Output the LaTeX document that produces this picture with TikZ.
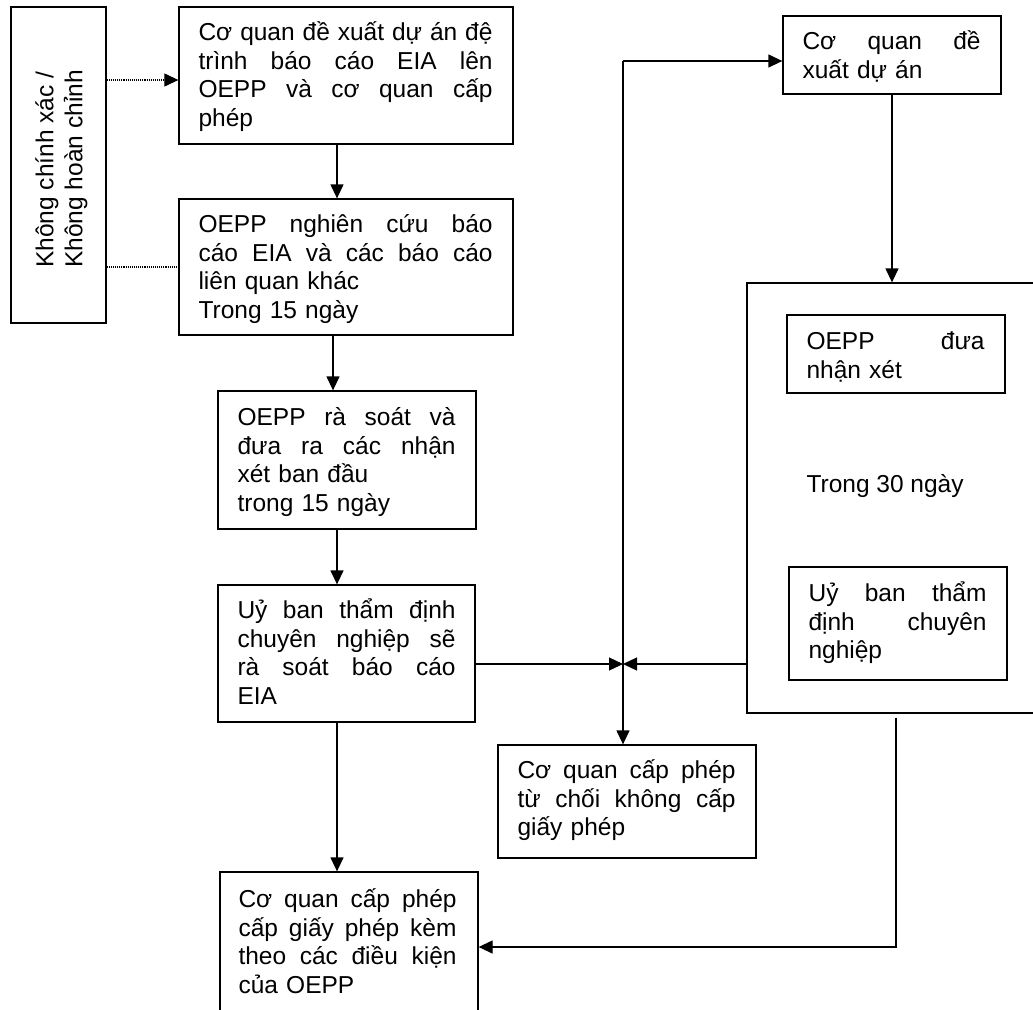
\documentclass[tikz,border=0pt]{standalone}
\usepackage{fontspec}
\setmainfont{Liberation Sans}
\usetikzlibrary{arrows.meta,calc}
\newcommand{\jl}[1]{{\spaceskip=0.278em plus 1fil\xspaceskip=0pt\makebox[\hsize][s]{#1}}}
\newcommand{\fst}{\rule{0pt}{28pt}}
\begin{document}
\begin{tikzpicture}[x=1pt,y=-1pt,
  box/.style={draw,line width=1.3pt,inner sep=0pt,rectangle},
  txt/.style={inner sep=0pt,anchor=north west,align=left,font=\fontsize{24.5}{28.5}\selectfont},
  arr/.style={line width=1.3pt,-{Triangle[length=14pt,width=13pt]}},
  dotarr/.style={line width=1.1pt,densely dotted,-{Triangle[length=14pt,width=13pt]}},
  dotln/.style={line width=1.1pt,densely dotted}]
\path[use as bounding box] (0,0) rectangle (1033,1009);
\clip (0,0) rectangle (1033,1009);

% left vertical box
\node[box,minimum width=95pt,minimum height=316pt] (L) at (58.5,165) {};
\node[inner sep=0pt,rotate=90,align=left,font=\fontsize{24.5}{29}\selectfont] (Lt) at ([shift={(3,4)}]L.center) {Không chính xác /\\Không hoàn chỉnh};

% main column
\node[box,minimum width=334pt,minimum height=137pt] (b1) at (346,75.5) {};
\node[txt,text width=294pt] (t1) at ([shift={(20,6)}]b1.north west) {\fst\jl{Cơ quan đề xuất dự án đệ}\\\jl{trình báo cáo EIA lên}\\\jl{OEPP và cơ quan cấp}\\phép};

\node[box,minimum width=334pt,minimum height=136pt] (b2) at (346,267) {};
\node[txt,text width=294pt] (t2) at ([shift={(20,6)}]b2.north west) {\fst\jl{OEPP nghiên cứu báo}\\\jl{cáo EIA và các báo cáo}\\liên quan khác\\Trong 15 ngày};

\node[box,minimum width=258pt,minimum height=138pt] (b3) at (347,460) {};
\node[txt,text width=218pt] (t3) at ([shift={(20,7)}]b3.north west) {\fst\jl{OEPP rà soát và}\\\jl{đưa ra các nhận}\\xét ban đầu\\trong 15 ngày};

\node[box,minimum width=257pt,minimum height=137pt] (b4) at (346.5,653.5) {};
\node[txt,text width=218pt] (t4) at ([shift={(20,6)}]b4.north west) {\fst\jl{Uỷ ban thẩm định}\\\jl{chuyên nghiệp sẽ}\\\jl{rà soát báo cáo}\\EIA};

\node[box,minimum width=258pt,minimum height=150pt] (b7) at (349,947) {};
\node[txt,text width=218pt] (t7) at ([shift={(19,8)}]b7.north west) {\fst\jl{Cơ quan cấp phép}\\\jl{cấp giấy phép kèm}\\\jl{theo các điều kiện}\\của OEPP};

% middle
\node[box,minimum width=258pt,minimum height=113pt] (b6) at (627,801.5) {};
\node[txt,text width=218pt] (t6) at ([shift={(20,6)}]b6.north west) {\fst\jl{Cơ quan cấp phép}\\\jl{từ chối không cấp}\\giấy phép};

% right
\node[box,minimum width=218pt,minimum height=78pt] (b5) at (892,55) {};
\node[txt,text width=178pt] (t5) at ([shift={(20,6)}]b5.north west) {\fst\jl{Cơ quan đề}\\xuất dự án};

\node[box,minimum width=298pt,minimum height=430pt] (big) at (896,498) {};
\node[box,minimum width=218pt,minimum height=78pt] (iA) at (896,354) {};
\node[txt,text width=178pt] (tA) at ([shift={(20,7)}]iA.north west) {\fst\jl{OEPP đưa}\\nhận xét};
\node[inner sep=0pt,anchor=base west,font=\fontsize{24.5}{28.5}\selectfont] (t30) at ([shift={(60,210)}]big.north west) {Trong 30 ngày};
\node[box,minimum width=218pt,minimum height=113pt] (iB) at (898,623.5) {};
\node[txt,text width=178pt] (tB) at ([shift={(20,7)}]iB.north west) {\fst\jl{Uỷ ban thẩm}\\\jl{định chuyên}\\nghiệp};

% connectors
\coordinate (c1) at (337,0);
\coordinate (c2) at (333,0);
\coordinate (J) at (623,664);
\coordinate (T) at (623,61);
\coordinate (d1) at (0,80);

\draw[arr] (b1.south -| c1) -- (b2.north -| c1);
\draw[arr] (b2.south -| c2) -- (b3.north -| c2);
\draw[arr] (b3.south -| c1) -- (b4.north -| c1);
\draw[arr] (b4.south -| c1) -- (b7.north -| c1);
\draw[arr] (b4.east |- J) -- (J);
\draw[arr] (big.west |- J) -- (J);
\draw[arr] (T) -- (b5.west |- T);
\draw[arr] (T) -- (b6.north -| T);
\draw[arr] (b5.south) -- (b5.south |- big.north);
\draw[arr] ([yshift=-4pt]big.south) |- (b7.east);

\draw[dotarr] (L.east |- d1) -- (b1.west |- d1);
\draw[dotln] (L.east |- b2.west) -- (b2.west);
\end{tikzpicture}
\end{document}
